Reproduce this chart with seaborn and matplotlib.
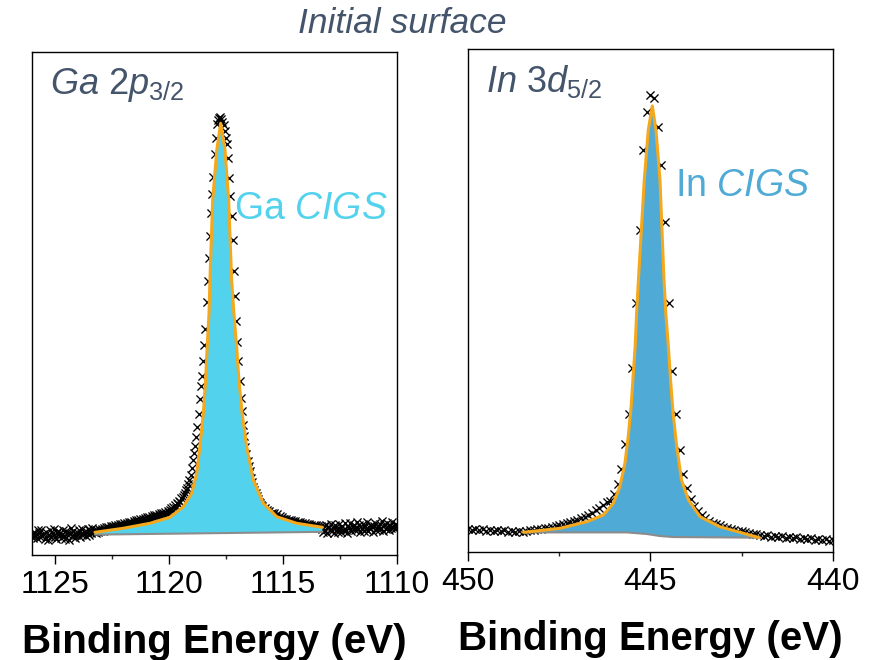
import numpy as np
import matplotlib
matplotlib.use('Agg')
import matplotlib.pyplot as plt
import seaborn as sns

sns.set_theme(style='ticks')
plt.rcParams['font.family'] = ['Liberation Sans', 'DejaVu Sans']
plt.rcParams['mathtext.fontset'] = 'custom'
plt.rcParams['mathtext.rm'] = 'Liberation Sans'
plt.rcParams['mathtext.it'] = 'Liberation Sans:italic'

# ---- Ga 2p3/2 : measured points (binding energy in eV, intensity a.u.) ----
ga_tail_left = [3.9, 3.3, 4.6, 4.0, 3.4, 4.9, 4.3, 3.6, 5.0, 3.7,
                4.2, 3.1, 4.5, 3.8, 2.9, 4.0, 4.9, 3.5, 4.4, 5.1,
                3.6, 3.2, 4.4, 4.8, 4.1, 3.4, 4.1, 5.0, 3.8, 3.1,
                4.8, 4.2, 3.0, 4.3, 5.3, 3.7, 4.7, 4.0, 3.3, 3.9,
                4.4, 4.9, 3.5, 4.1, 5.1, 4.2, 4.6, 3.7, 4.6, 5.2,
                4.0, 4.9, 4.4, 5.3,
                4.5, 4.9, 4.4, 5.0, 4.6, 5.1, 4.7, 5.2, 4.8, 5.3,
                4.9, 5.5, 5.0, 5.6, 5.1, 5.7, 5.2, 5.8, 5.4, 5.9,
                5.5, 6.0, 5.6, 6.1, 5.7, 6.2,
                5.8, 6.3, 5.9, 6.4, 6.0, 6.5, 6.1, 6.6, 6.3, 6.8,
                6.4, 6.9, 6.5, 7.0, 6.6, 7.1, 6.8, 7.2, 6.9, 7.4,
                7.0, 7.5, 7.1, 7.6,
                7.2, 7.8, 7.4, 7.9, 7.5, 8.0, 7.7, 8.2, 7.8, 8.3,
                7.9, 8.4, 8.1, 8.5, 8.2, 8.7]                       # 1126.00 .. 1120.05
ga_peak = [8.6, 8.9, 9.3, 8.7, 9.6, 9.9, 9.4, 10.3, 10.1, 10.8,
           10.5, 11.3, 11.6, 11.9, 12.3, 12.9, 13.4, 14.1, 14.9, 16.0,
           17.3, 18.8, 20.3, 21.6, 23.5, 25.4, 28.0, 31.0, 33.5, 35.5,
           38.6, 41.8, 45.0, 50.2, 54.5, 59.0, 63.5, 68.0, 71.8, 75.2,
           79.8, 83.0, 85.6, 86.4, 86.9, 87.1, 86.7, 86.0, 85.4, 84.3,
           82.9, 81.8, 78.9, 75.0, 71.4, 67.3, 62.6, 56.5, 51.5, 46.5,
           42.3, 38.6, 34.5, 31.2, 28.6, 25.8, 23.6, 21.5, 20.1, 18.7,
           17.6, 16.7, 15.4, 14.5, 13.6, 12.9, 12.4, 11.7, 11.1, 10.6,
           10.4, 9.9, 9.7, 9.2, 9.4, 8.8, 9.0, 8.5, 8.7, 8.2,
           8.4, 7.9, 8.3, 7.8, 7.6, 8.1, 7.4, 7.7, 7.2, 7.6, 7.1]   # 1120.00 .. 1115.00
ga_tail_right = [7.2, 6.8, 7.1, 6.7, 7.0, 6.6, 6.9, 6.5, 6.8, 6.4,
                 6.7, 6.3, 6.6, 6.2, 6.5, 6.1, 6.4, 6.0, 6.3, 5.9,
                 6.2, 5.8, 6.1, 5.7, 6.0, 5.6, 5.9, 5.5, 5.9, 5.4,
                 5.8, 5.3, 5.7, 5.2,
                 4.6, 5.8, 4.9, 6.0, 4.4, 5.5, 5.0, 6.2, 4.7, 5.3,
                 4.3, 5.9, 5.1, 4.6, 6.1, 5.2, 4.5, 5.7, 4.9, 6.3,
                 5.0, 4.4, 5.8, 5.3, 6.4, 4.8, 5.5, 6.0, 4.9, 5.6,
                 6.5, 5.2, 5.9, 4.6, 5.4, 6.2, 4.8, 5.7, 5.1, 6.6,
                 4.7, 5.3, 6.0, 5.5, 4.5, 5.8, 6.3, 5.0, 5.6, 4.9,
                 6.1, 5.4, 6.7, 4.8, 5.9, 5.2, 6.4, 5.6, 4.9, 6.0,
                 5.3, 6.5, 5.7, 5.1, 6.2, 5.8]                      # 1114.95 .. 1110.00

# Ga fitted component (envelope) and linear background
ga_fit_be = [1123.24, 1122.00, 1120.83, 1119.95, 1119.37, 1119.00, 1118.78, 1118.64,
             1118.49, 1118.39, 1118.32, 1118.24, 1118.20, 1118.08, 1117.90, 1117.73,
             1117.54, 1117.38, 1117.25, 1117.15, 1117.03, 1116.93, 1116.79, 1116.59,
             1116.30, 1115.86, 1115.27, 1114.40, 1113.27]
ga_fit_int = [4.51, 5.31, 6.30, 7.50, 9.60, 12.27, 16.24, 21.53,
              28.17, 34.79, 41.41, 48.05, 54.67, 70.58, 80.52, 85.83,
              80.52, 70.58, 54.67, 48.05, 41.41, 34.79, 28.17, 21.53,
              14.91, 10.28, 7.61, 6.30, 5.51]
ga_bg_be = [1123.24, 1113.27]
ga_bg_int = [4.05, 4.60]

# ---- In 3d5/2 : measured points, 450.0 .. 440.0 eV ----
in_counts = [4.6, 4.3, 4.6, 4.3, 4.5, 4.2, 4.45, 4.15, 4.4, 4.1,
             4.3, 4.05, 4.25, 4.0, 4.2, 4.05, 4.1, 4.3, 4.35, 4.5,
             4.55, 4.7, 4.8, 5.0, 5.1, 5.3, 5.5, 5.7, 5.9, 6.2,
             6.4, 6.7, 7.0, 7.4, 7.8, 8.3, 8.8, 9.4, 10.0, 10.1,
             11.6, 13.5, 16.6, 21.4, 27.5, 36.5, 49.5, 64.0, 80.0, 87.5,
             90.8, 90.2, 84.5, 77.0, 65.7, 49.5, 36.0, 27.5, 20.2, 15.5,
             12.8, 10.5, 9.2, 8.1, 7.3, 6.7, 6.2, 5.8, 5.5, 5.3,
             5.0, 4.8, 4.6, 4.4, 4.25, 4.1, 3.95, 3.8, 3.65, 3.5,
             3.38, 3.1, 3.35, 3.0, 3.25, 2.9, 3.15, 2.8, 3.05, 2.7,
             2.95, 2.6, 2.85, 2.5, 2.75, 2.4, 2.65, 2.3, 2.55, 2.2, 2.45]

in_fit_be = [448.48, 447.48, 446.75, 446.29, 446.02, 445.84, 445.70, 445.61,
             445.53, 445.47, 445.42, 445.38, 445.33, 445.17, 445.06, 444.95,
             444.85, 444.74, 444.63, 444.58, 444.51, 444.45, 444.38, 444.28,
             444.15, 443.96, 443.64, 443.10, 442.02]
in_fit_int = [3.92, 4.71, 6.02, 7.36, 9.68, 12.98, 17.63, 22.92,
              28.89, 35.53, 40.82, 47.46, 54.08, 73.96, 83.90, 88.67,
              83.90, 73.96, 54.08, 47.46, 40.82, 34.19, 27.57, 20.93,
              14.31, 10.34, 7.02, 5.03, 2.85]
in_bg_be = [448.48, 445.65, 445.10, 444.74, 444.38, 442.02]
in_bg_int = [3.90, 3.90, 3.58, 3.18, 2.98, 2.85]

ga_be = np.concatenate([np.linspace(1126.0, 1120.05, len(ga_tail_left)),
                        np.linspace(1120.0, 1115.0, len(ga_peak)),
                        np.linspace(1114.95, 1110.0, len(ga_tail_right))])
ga_counts = np.array(ga_tail_left + ga_peak + ga_tail_right)
in_be = np.linspace(450.0, 440.0, len(in_counts))

title_col = '#44546A'
fit_col = '#F5A81C'
bg_col = '#8C8C8C'

fig = plt.figure(figsize=(8.82, 6.6), dpi=100)
ax1 = fig.add_axes([0.0363, 0.1591, 0.4138, 0.7621])
ax2 = fig.add_axes([0.5306, 0.1636, 0.4138, 0.7621])

panels = [
    (ax1, ga_be, ga_counts, ga_fit_be, ga_fit_int, ga_bg_be, ga_bg_int, '#52D2EC',
     r'$\mathit{Ga\ 2p}_{\mathit{3/2}}$', r'Ga $\mathit{CIGS}$', (1126, 1110), [1125, 1120, 1115, 1110],
     (0.553, 0.688)),
    (ax2, in_be, np.array(in_counts), in_fit_be, in_fit_int, in_bg_be, in_bg_int, '#4FAAD6',
     r'$\mathit{In\ 3d}_{\mathit{5/2}}$', r'In $\mathit{CIGS}$', (450, 440), [450, 445, 440],
     (0.568, 0.727)),
]

for ax, be, cnt, fbe, fint, bbe, bint, col, name, comp, xlim, ticks, comp_pos in panels:
    sns.scatterplot(x=be, y=cnt, ax=ax, marker='x', color='black', s=34,
                    linewidth=0.95, zorder=1, legend=False)
    # component area between envelope and background
    ax.fill(list(fbe) + list(bbe[::-1]), list(fint) + list(bint[::-1]),
            color=col, lw=0, zorder=2)
    sns.lineplot(x=bbe, y=bint, ax=ax, color=bg_col, lw=1.5, sort=False,
                 estimator=None, zorder=3)
    sns.lineplot(x=fbe, y=fint, ax=ax, color=fit_col, lw=2.2, sort=False,
                 estimator=None, zorder=4)

    ax.set_xlim(*xlim)
    ax.set_ylim(0, 100)
    ax.set_xticks(ticks)
    ax.set_xticks([t - (ticks[0] - ticks[1]) / 2 for t in ticks[:-1]], minor=True)
    ax.set_yticks([])
    ax.set_ylabel('')
    ax.tick_params(axis='x', which='major', direction='out', length=6.5, width=1,
                   labelsize=23, pad=4, colors='black')
    ax.tick_params(axis='x', which='minor', direction='out', length=3, width=1)
    ax.set_xlabel('Binding Energy (eV)', fontsize=29, fontweight='bold',
                  labelpad=17, color='black')
    for sp in ax.spines.values():
        sp.set_visible(True)
        sp.set_color('black')
        sp.set_linewidth(1.0)

    ax.text(0.05, 0.935, name, transform=ax.transAxes, fontsize=26,
            color=title_col, ha='left', va='center')
    ax.text(comp_pos[0], comp_pos[1], comp, transform=ax.transAxes, fontsize=27,
            color=col, ha='left', va='center')

ax1.set_xticklabels(['1125', '1120', '1115', '1110'])
fig.text(0.4564, 0.965, 'Initial surface', fontsize=25.5, style='italic',
         color=title_col, ha='center', va='center')

fig.savefig('out.png', dpi=100)
